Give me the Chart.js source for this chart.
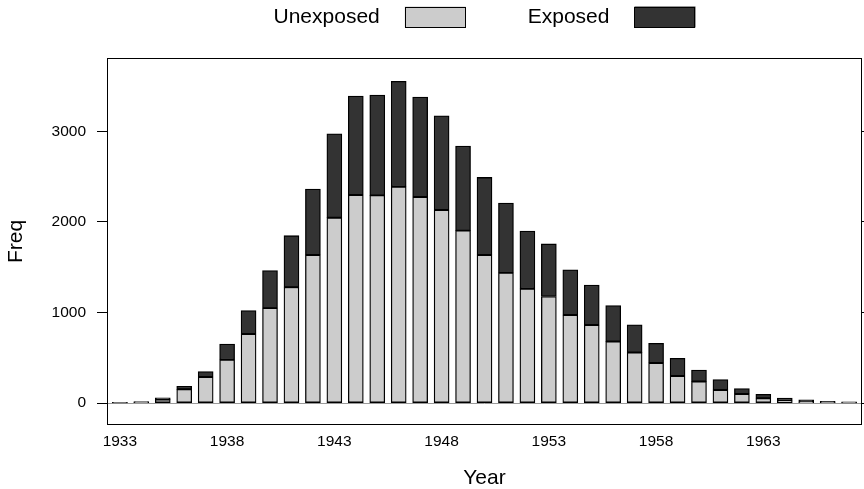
<!DOCTYPE html>
<html>
<head>
<meta charset="utf-8">
<script src="https://cdn.jsdelivr.net/npm/chart.js@4/dist/chart.umd.min.js"></script>
<style>
  body { margin: 0; background: #fff; }
</style>
</head>
<body>
<canvas id="myChart" width="864" height="489"></canvas>
<script>
// births per year, split by exposure
const years = [1933, 1934, 1935, 1936, 1937, 1938, 1939, 1940, 1941, 1942,
  1943, 1944, 1945, 1946, 1947, 1948, 1949, 1950, 1951, 1952,
  1953, 1954, 1955, 1956, 1957, 1958, 1959, 1960, 1961, 1962,
  1963, 1964, 1965, 1966, 1967];
const unexposed = [2, 4, 40, 152, 288, 478, 762, 1048, 1279, 1635,
  2046, 2296, 2292, 2387, 2274, 2130, 1903, 1635, 1437, 1261,
  1176, 971, 861, 680, 559, 443, 299, 237, 145, 101,
  53, 25, 10, 4, 3];
const exposed = [6, 12, 17, 33, 60, 173, 260, 414, 568, 727,
  925, 1093, 1108, 1164, 1104, 1039, 932, 855, 770, 638,
  580, 499, 440, 397, 305, 217, 194, 128, 114, 59,
  44, 30, 26, 14, 12];
const yTicks = [0, 1000, 2000, 3000];
const xTicks = [1933, 1938, 1943, 1948, 1953, 1958, 1963];

const font = '"Liberation Sans", Arial, Helvetica, sans-serif';

let toPoints = vals => vals.map((v, i) => ({ x: years[i], y: v }));

// key on top: text first, then the swatch
const topKey = {
  id: 'topKey',
  afterDraw(chart) {
    const ctx = chart.ctx;
    ctx.save();
    ctx.font = '21px ' + font;
    const gap = 25, boxW = 61, boxH = 21, colGap = 62, cy = 17;
    const items = chart.data.datasets.map(ds => ({
      label: ds.label, fill: ds.backgroundColor, w: ctx.measureText(ds.label).width
    }));
    const total = items.reduce((s, it) => s + it.w + gap + boxW, 0) + colGap * (items.length - 1);
    let x = (chart.chartArea.left + chart.chartArea.right) / 2 - total / 2;
    items.forEach(it => {
      ctx.fillStyle = '#000';
      ctx.textBaseline = 'middle';
      ctx.textAlign = 'left';
      ctx.fillText(it.label, x, cy);
      x += it.w + gap;
      ctx.fillStyle = it.fill;
      ctx.fillRect(x, cy - boxH / 2, boxW, boxH);
      ctx.strokeStyle = '#000';
      ctx.lineWidth = 1;
      ctx.strokeRect(Math.round(x) + 0.5, Math.round(cy - boxH / 2) + 0.5, boxW - 1, boxH - 1);
      x += boxW + colGap;
    });
    ctx.restore();
  }
};

// panel border
const panelBox = {
  id: 'panelBox',
  afterDraw(chart) {
    const a = chart.chartArea;
    const ctx = chart.ctx;
    ctx.save();
    ctx.strokeStyle = '#000';
    ctx.lineWidth = 1;
    ctx.strokeRect(Math.round(a.left) + 0.5, Math.round(a.top) + 0.5,
      Math.round(a.right - a.left) - 1, Math.round(a.bottom - a.top) - 1);
    ctx.restore();
  }
};

const yMin = -242, yMax = 3808;

let ctx = document.getElementById('myChart').getContext('2d');
let chart = new Chart(ctx, {
  type: 'bar',
  data: {
    datasets: [{
      label: 'Unexposed',
      data: toPoints(unexposed),
      backgroundColor: '#cccccc',
      borderColor: '#000000',
      borderWidth: 1.3,
      borderSkipped: false,
      barThickness: 15
    }, {
      label: 'Exposed',
      data: toPoints(exposed),
      backgroundColor: '#333333',
      borderColor: '#000000',
      borderWidth: 1.3,
      borderSkipped: false,
      barThickness: 15
    }]
  },
  options: {
    responsive: false,
    animation: false,
    devicePixelRatio: 1,
    layout: { padding: { top: 58, left: 0, right: 0, bottom: 0 } },
    plugins: {
      legend: { display: false },
      tooltip: { enabled: false }
    },
    scales: {
      x: {
        type: 'linear',
        stacked: true,
        offset: false,
        min: 1932.4,
        max: 1967.6,
        afterBuildTicks: scale => { scale.ticks = xTicks.map(v => ({ value: v })); },
        afterFit: scale => { scale.height = 64; },
        grid: { display: false, drawTicks: false, offset: false },
        border: { display: false },
        ticks: {
          color: '#000',
          padding: 7,
          maxRotation: 0,
          font: { family: font, size: 15.5 },
          callback: v => String(v)
        },
        title: {
          display: true,
          text: 'Year',
          color: '#000',
          font: { family: font, size: 21 },
          padding: { top: 0, bottom: -2 }
        }
      },
      y: {
        type: 'linear',
        position: 'left',
        stacked: true,
        min: yMin,
        max: yMax,
        afterBuildTicks: scale => { scale.ticks = yTicks.map(v => ({ value: v })); },
        afterFit: scale => { scale.width = 107; },
        grid: {
          drawOnChartArea: true,
          color: c => (c.tick && c.tick.value === 0) ? '#9a9a9a' : 'rgba(0,0,0,0)',
          tickColor: '#000',
          tickLength: 10,
          lineWidth: 1
        },
        border: { display: false },
        ticks: {
          color: '#000',
          padding: 11,
          font: { family: font, size: 15.5 },
          callback: v => String(v)
        },
        title: {
          display: true,
          text: 'Freq',
          color: '#000',
          font: { family: font, size: 21 },
          padding: { top: 4, bottom: 0 }
        }
      },
      y2: {
        type: 'linear',
        position: 'right',
        min: yMin,
        max: yMax,
        afterBuildTicks: scale => { scale.ticks = yTicks.map(v => ({ value: v })); },
        afterFit: scale => { scale.width = 2; },
        grid: { drawOnChartArea: false, tickColor: '#000', tickLength: 8 },
        border: { display: false },
        ticks: { display: false }
      }
    }
  },
  plugins: [topKey, panelBox]
});
</script>
</body>
</html>
